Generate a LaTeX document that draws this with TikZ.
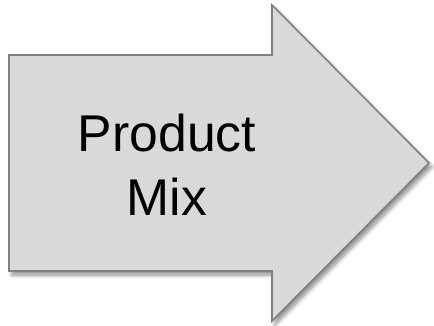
\documentclass[tikz,border=0pt]{standalone}
\usepackage{fontspec}
\setmainfont{Liberation Sans}
\usetikzlibrary{shadows.blur}
\definecolor{arrowfill}{HTML}{D9D9D9}
\definecolor{arrowline}{HTML}{808080}
\tikzset{
  blockarrow/.style={fill=arrowfill, draw=arrowline, line width=1.6pt, line join=miter,
    blur shadow={shadow xshift=3pt, shadow yshift=-4pt, shadow blur steps=8, shadow blur radius=4pt, shadow opacity=45}},
  label/.style={font=\fontsize{51.7}{63}\selectfont, text=black, anchor=base, inner sep=0pt}
}
\begin{document}
\begin{tikzpicture}[x=1pt,y=-1pt]
\useasboundingbox (0,0) rectangle (434,326);
\path[blockarrow] (9,55) -- (272,55) -- (272,5) -- (429,163) -- (272,321) -- (272,271) -- (9,271) -- cycle;
\node[label] (l1) at (167,152) {Product};
\node[label] (l2) at (167,215) {Mix};
\end{tikzpicture}
\end{document}
